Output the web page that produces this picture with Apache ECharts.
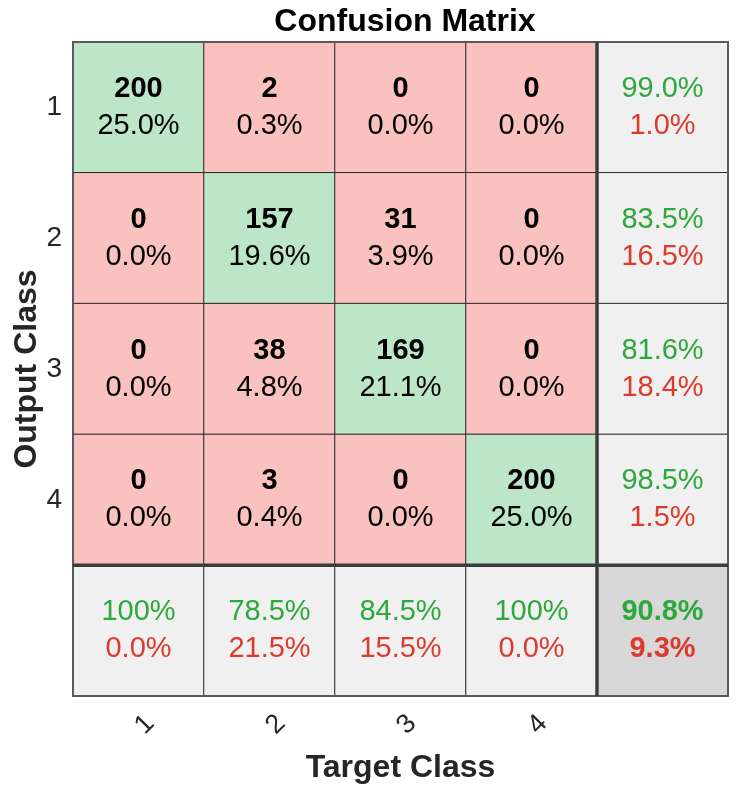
<!DOCTYPE html>
<html>
<head>
<meta charset="utf-8">
<script src="https://cdn.jsdelivr.net/npm/echarts@6/dist/echarts.min.js"></script>
<style>
html,body{margin:0;padding:0;background:#fff;}
#chart{width:743px;height:796px;}
</style>
</head>
<body>
<div id="chart"></div>
<script>
// ---- data ----
const classes = ['1', '2', '3', '4'];
const xTickLabels = ['1', '2', '3', '4', ''];
const yTickLabels = ['1', '2', '3', '4', ''];
// counts[row = output class][col = target class]
const counts = [
  [200, 2, 0, 0],
  [0, 157, 31, 0],
  [0, 38, 169, 0],
  [0, 3, 0, 200]
];
const cellPct = [
  ['25.0%', '0.3%', '0.0%', '0.0%'],
  ['0.0%', '19.6%', '3.9%', '0.0%'],
  ['0.0%', '4.8%', '21.1%', '0.0%'],
  ['0.0%', '0.4%', '0.0%', '25.0%']
];
const rowCorrect = ['99.0%', '83.5%', '81.6%', '98.5%'];
const rowError = ['1.0%', '16.5%', '18.4%', '1.5%'];
const colCorrect = ['100%', '78.5%', '84.5%', '100%'];
const colError = ['0.0%', '21.5%', '15.5%', '0.0%'];
const totalCorrect = '90.8%';
const totalError = '9.3%';

const GREEN_BG = '#bde5c7';
const RED_BG = '#f9c2bf';
const GRAY_BG = '#f0f0f0';
const DARK_BG = '#d8d8d8';
const FONT = "'Liberation Sans', Arial, sans-serif";

const n = classes.length;
const heatData = [];
for (let r = 0; r < n; r++) {
  for (let c = 0; c < n; c++) {
    heatData.push({
      value: [c, r, counts[r][c]],
      itemStyle: { color: r === c ? GREEN_BG : RED_BG },
      label: { formatter: '{b|' + counts[r][c] + '}\n{n|' + cellPct[r][c] + '}' }
    });
  }
  heatData.push({
    value: [n, r, 0],
    itemStyle: { color: GRAY_BG },
    label: { formatter: '{g|' + rowCorrect[r] + '}\n{r|' + rowError[r] + '}' }
  });
}
for (let c = 0; c < n; c++) {
  heatData.push({
    value: [c, n, 0],
    itemStyle: { color: GRAY_BG },
    label: { formatter: '{g|' + colCorrect[c] + '}\n{r|' + colError[c] + '}' }
  });
}
heatData.push({
  value: [n, n, 0],
  itemStyle: { color: DARK_BG },
  label: { formatter: '{gb|' + totalCorrect + '}\n{rb|' + totalError + '}' }
});

const chart = echarts.init(document.getElementById('chart'), null, { renderer: 'canvas' });
chart.setOption({
  animation: false,
  backgroundColor: '#ffffff',
  textStyle: { fontFamily: FONT },
  graphic: [{
    type: 'text',
    x: 405, y: 22,
    style: {
      text: 'Confusion Matrix', align: 'center', verticalAlign: 'middle',
      font: 'bold 32px ' + FONT, fill: '#000'
    }
  }],
  grid: { left: 73, top: 42, right: 15, bottom: 100, containLabel: false, outerBoundsMode: 'none' },
  xAxis: {
    type: 'category',
    data: xTickLabels,
    name: 'Target Class',
    nameLocation: 'middle',
    nameGap: 56,
    nameMoveOverlap: false,
    nameTextStyle: { fontSize: 32, fontWeight: 'bold', color: '#262626', fontFamily: FONT },
    axisLine: { show: false },
    axisTick: { show: false },
    splitLine: { show: false },
    axisLabel: {
      rotate: 45, fontSize: 27, color: '#262626', margin: 35,
      align: 'center', verticalAlign: 'middle', padding: [20, 0, 0, 18],
      interval: 0
    }
  },
  yAxis: {
    type: 'category',
    data: yTickLabels,
    inverse: true,
    name: 'Output Class',
    nameLocation: 'middle',
    nameGap: 30,
    nameMoveOverlap: false,
    nameTextStyle: { fontSize: 32, fontWeight: 'bold', color: '#262626', fontFamily: FONT },
    axisLine: { show: false },
    axisTick: { show: false },
    splitLine: { show: false },
    axisLabel: { fontSize: 28, color: '#262626', margin: 11, interval: 0 }
  },
  series: [{
    type: 'heatmap',
    data: heatData,
    itemStyle: { borderColor: '#262626', borderWidth: 1 },
    emphasis: { disabled: true },
    label: {
      show: true,
      fontFamily: FONT,
      rich: {
        b: { fontSize: 29, fontWeight: 'bold', color: '#000', lineHeight: 37, fontFamily: FONT },
        n: { fontSize: 29, color: '#000', lineHeight: 37, fontFamily: FONT },
        g: { fontSize: 29, color: '#2ea83c', lineHeight: 37, fontFamily: FONT },
        r: { fontSize: 29, color: '#db3b2d', lineHeight: 37, fontFamily: FONT },
        gb: { fontSize: 29, fontWeight: 'bold', color: '#2ea83c', lineHeight: 37, fontFamily: FONT },
        rb: { fontSize: 29, fontWeight: 'bold', color: '#db3b2d', lineHeight: 37, fontFamily: FONT }
      }
    }
  }, {
    type: 'custom',
    silent: true,
    z: 10,
    data: [[n, n]],
    renderItem: function (params, api) {
      const c = api.coord([api.value(0), api.value(1)]);
      const s = api.size([1, 1]);
      const r = params.coordSys;
      const x0 = c[0] - s[0] / 2;
      const y0 = c[1] - s[1] / 2;
      return {
        type: 'group',
        children: [
          { type: 'rect', shape: { x: r.x, y: r.y, width: r.width, height: r.height },
            style: { fill: 'none', stroke: '#5a5a5a', lineWidth: 2 } },
          { type: 'line', shape: { x1: x0, y1: r.y, x2: x0, y2: r.y + r.height },
            style: { stroke: '#3c3c3c', lineWidth: 3.5 } },
          { type: 'line', shape: { x1: r.x, y1: y0, x2: r.x + r.width, y2: y0 },
            style: { stroke: '#3c3c3c', lineWidth: 3.5 } }
        ]
      };
    }
  }]
});
</script>
</body>
</html>
